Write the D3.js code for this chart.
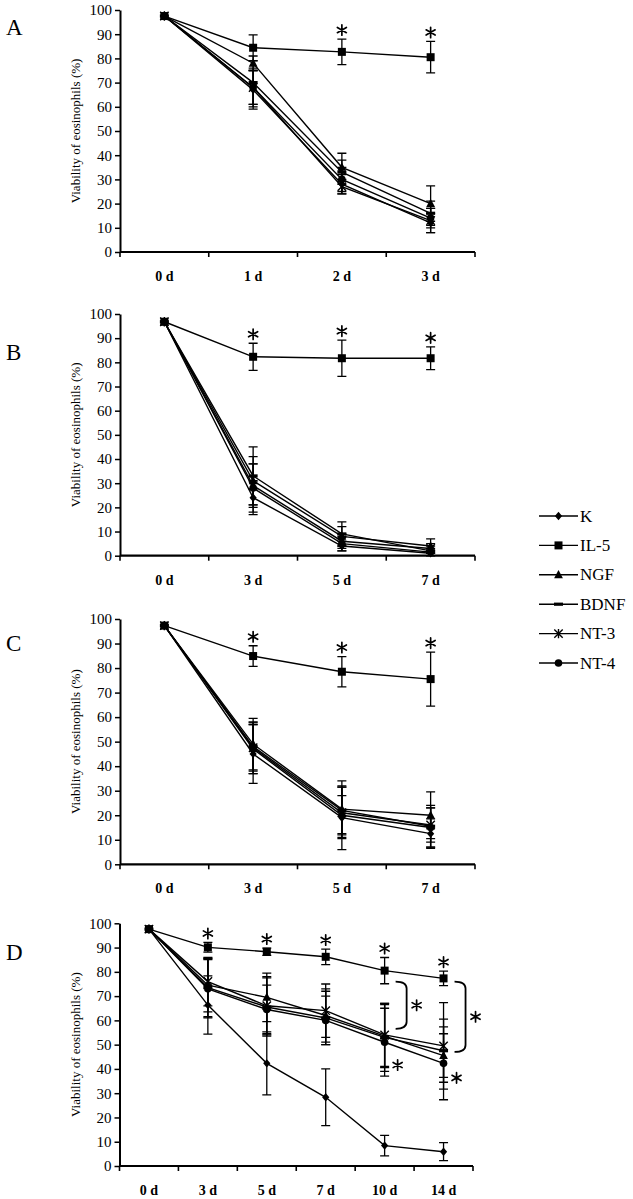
<!DOCTYPE html>
<html><head><meta charset="utf-8">
<script src="https://cdn.jsdelivr.net/npm/d3@7"></script>
<style>body{margin:0;background:#fff}</style>
</head><body><svg id="c" width="633" height="1199"></svg>
<script>
// ---------- data ----------
const seriesNames = ["K","IL-5","NGF","BDNF","NT-3","NT-4"];
const markerTypes = ["diamond","square","triangle","dash","asterisk","circle"];
const yTicks = [0,10,20,30,40,50,60,70,80,90,100];

const daysA = ["0 d","1 d","2 d","3 d"];
const valuesA = [
  [97.5,67,28,12],
  [97.5,84.4,82.7,80.5],
  [97.5,78,35,20],
  [97.5,70,33,16],
  [97.5,68,27,13],
  [97.5,68,30,14]
];
const errorsA = [
  [0,8,4,4],
  [0,5.3,5.3,6.5],
  [0,3,5.8,7.3],
  [0,9,5,5],
  [0,8,3,5],
  [0,7,5,4]
];
const starsA = ["2 d","3 d"];

const daysB = ["0 d","3 d","5 d","7 d"];
const valuesB = [
  [96.8,24,4,1],
  [96.8,82.3,81.7,81.7],
  [96.8,31,8,4],
  [96.8,33,9,2],
  [96.8,29,6,3],
  [96.8,28,5,1.5]
];
const errorsB = [
  [0,7,2,1],
  [0,5.6,7.5,4.7],
  [0,10,4,3],
  [0,12,5,2],
  [0,9,3,2],
  [0,10,3,1.5]
];
const starsB = ["3 d","5 d","7 d"];

const daysC = ["0 d","3 d","5 d","7 d"];
const valuesC = [
  [97.3,45,19,12.5],
  [97.3,84.9,78.5,75.5],
  [97.3,49,22.5,20],
  [97.3,48,22,15.5],
  [97.3,47.5,21,16],
  [97.3,47,20,15]
];
const errorsC = [
  [0,12,13,6],
  [0,4.2,6.2,11],
  [0,10.5,11.5,9.5],
  [0,10,9.5,8.5],
  [0,10.5,10.5,7],
  [0,10,8,8]
];
const starsC = ["3 d","5 d","7 d"];

const daysD = ["0 d","3 d","5 d","7 d","10 d","14 d"];
const valuesD = [
  [97.6,66.3,42.3,28.3,8.4,5.9],
  [97.6,90.1,88.3,86.2,80.5,77.3],
  [97.6,74.5,69.5,62,53.5,45.5],
  [97.6,73.5,65.5,61,53,47.5],
  [97.6,76,66,64,54,49.5],
  [97.6,73,64.5,60,51,42.3]
];
const errorsD = [
  [0,12,13,11.7,4.2,3.7],
  [0,2,1.5,3.2,5.4,3],
  [0,11,10,11,13,9],
  [0,12,12,11,14,13],
  [0,10,12,11,13,17.8],
  [0,12,10,10,14,15]
];
const starsD = ["3 d","5 d","7 d","10 d","14 d"];
const bracketDays = ["10 d","14 d"];
const bracketFrom = [76,76];
const bracketTo = [56.5,47];
const sideStarDays = ["10 d","14 d"];
const sideStarValues = [41.6,36.3];

// ---------- drawing ----------
const svg = d3.select("#c");
const serif = "Liberation Serif, Times New Roman, serif";

function star(g, x, y) {
  const r = 5.2, parts = [];
  for (let k = 0; k < 3; k++) {
    const a = Math.PI/2 + k*Math.PI/3;
    const dx = r*Math.cos(a), dy = r*Math.sin(a);
    parts.push(`M${x-dx},${y-dy}L${x+dx},${y+dy}`);
  }
  g.append("path").attr("d", parts.join("")).attr("stroke","#000").attr("stroke-width",1.7)
    .attr("stroke-linecap","round").attr("fill","none");
}

function marker(g, type, x, y) {
  if (type === "diamond") {
    g.append("path").attr("d", `M${x},${y-4.2}L${x+3.6},${y}L${x},${y+4.2}L${x-3.6},${y}Z`).attr("fill","#000");
  } else if (type === "square") {
    g.append("rect").attr("x",x-4).attr("y",y-4).attr("width",8).attr("height",8).attr("fill","#000");
  } else if (type === "triangle") {
    g.append("path").attr("d", `M${x},${y-4.8}L${x+4.4},${y+3.4}L${x-4.4},${y+3.4}Z`).attr("fill","#000");
  } else if (type === "dash") {
    g.append("rect").attr("x",x-4.5).attr("y",y-1.6).attr("width",9).attr("height",3.2).attr("fill","#000");
  } else if (type === "asterisk") {
    const r = 4.2;
    g.append("path").attr("d",
      `M${x-r},${y-r}L${x+r},${y+r}M${x+r},${y-r}L${x-r},${y+r}M${x},${y-r-0.5}L${x},${y+r+0.5}`)
      .attr("stroke","#000").attr("stroke-width",1.4).attr("fill","none");
  } else if (type === "circle") {
    g.append("circle").attr("cx",x).attr("cy",y).attr("r",3.8).attr("fill","#000");
  }
}

function panel(cfg) {
  const g = svg.append("g");
  const x = d3.scaleBand().domain(cfg.days).range([cfg.left, cfg.right]);
  const y = d3.scaleLinear().domain([0,100]).range([cfg.bottom, cfg.top]);
  const cx = d => x(d) + x.bandwidth()/2;

  // y axis
  const ya = g.append("g").attr("transform",`translate(${cfg.left},0)`)
    .call(d3.axisLeft(y).tickValues(yTicks).tickSize(5).tickSizeOuter(0).tickPadding(3));
  ya.select(".domain").attr("stroke","#000").attr("stroke-width",2);
  ya.selectAll(".tick line").attr("stroke","#000").attr("stroke-width",1.5);
  ya.selectAll(".tick text").attr("font-family",serif).attr("font-size",15).attr("fill","#000");

  // x axis
  const xa = g.append("g").attr("transform",`translate(0,${cfg.bottom})`);
  xa.append("line").attr("x1",cfg.left).attr("x2",cfg.right).attr("y1",0).attr("y2",0)
    .attr("stroke","#000").attr("stroke-width",2.2);
  const bounds = cfg.days.map(d => x(d)).concat([cfg.right]);
  xa.selectAll("line.tk").data(bounds).enter().append("line").attr("class","tk")
    .attr("x1",d=>d).attr("x2",d=>d).attr("y1",0).attr("y2",5)
    .attr("stroke","#000").attr("stroke-width",1.6);
  xa.selectAll("text").data(cfg.days).enter().append("text")
    .attr("x",d=>cx(d)).attr("y",29).attr("text-anchor","middle")
    .attr("font-family",serif).attr("font-size",14).attr("font-weight","bold").text(d=>d);

  // y label
  g.append("text").attr("transform",`translate(80,${(cfg.top+cfg.bottom)/2}) rotate(-90)`)
    .attr("text-anchor","middle").attr("font-family",serif).attr("font-size",13).text("Viability of eosinophils (%)");

  // panel letter
  g.append("text").attr("x",6).attr("y",cfg.letterY).attr("font-family",serif).attr("font-size",23).text(cfg.letter);

  const line = d3.line().x((d,i)=>cx(cfg.days[i])).y(d=>y(d));
  cfg.values.forEach(vals => {
    g.append("path").attr("d", line(vals)).attr("fill","none").attr("stroke","#000").attr("stroke-width",1.4);
  });
  cfg.values.forEach((vals,si) => {
    vals.forEach((v,i) => {
      const e = cfg.errors[si][i];
      if (!e) return;
      const xx = cx(cfg.days[i]);
      g.append("path").attr("d",
        `M${xx},${y(v+e)}L${xx},${y(v-e)}M${xx-4.5},${y(v+e)}L${xx+4.5},${y(v+e)}M${xx-4.5},${y(v-e)}L${xx+4.5},${y(v-e)}`)
        .attr("stroke","#000").attr("stroke-width",1.3).attr("fill","none");
    });
  });
  cfg.values.forEach((vals,si) => {
    vals.forEach((v,i) => marker(g, markerTypes[si], cx(cfg.days[i]), y(v)));
  });
  cfg.stars.forEach(d => {
    const i = cfg.days.indexOf(d);
    const top = cfg.values[1][i] + cfg.errors[1][i];
    star(g, cx(d), y(top) - 9);
  });
  return {x,y,cx,g};
}

panel({letter:"A", letterY:35, days:daysA, values:valuesA, errors:errorsA, stars:starsA,
  left:120, right:475, top:10, bottom:252});
panel({letter:"B", letterY:360, days:daysB, values:valuesB, errors:errorsB, stars:starsB,
  left:120, right:475, top:314, bottom:555.7});
panel({letter:"C", letterY:651, days:daysC, values:valuesC, errors:errorsC, stars:starsC,
  left:120, right:475, top:619, bottom:864.3});
const pd = panel({letter:"D", letterY:960, days:daysD, values:valuesD, errors:errorsD, stars:starsD,
  left:119.5, right:473, top:923.3, bottom:1166});

// brackets in D
bracketDays.forEach((d,i) => {
  const x0 = pd.cx(d) + 11, x1 = pd.cx(d) + 22;
  const y0 = pd.y(bracketFrom[i]), y1 = pd.y(bracketTo[i]);
  pd.g.append("path").attr("d",
    `M${x0},${y0}Q${x1},${y0} ${x1},${y0+7}L${x1},${y1-7}Q${x1},${y1} ${x0},${y1}`)
    .attr("fill","none").attr("stroke","#000").attr("stroke-width",1.8);
  star(pd.g, x1 + 10, (y0+y1)/2);
});
sideStarDays.forEach((d,i) => star(pd.g, pd.cx(d) + 13, pd.y(sideStarValues[i])));

// legend
const lg = svg.append("g");
seriesNames.forEach((n,i) => {
  const yy = 516 + i*29.4;
  lg.append("line").attr("x1",539).attr("x2",578).attr("y1",yy).attr("y2",yy).attr("stroke","#000").attr("stroke-width",1.4);
  marker(lg, markerTypes[i], 558.5, yy);
  lg.append("text").attr("x",580).attr("y",yy+5.5).attr("font-family",serif).attr("font-size",17).text(n);
});
</script></body></html>
